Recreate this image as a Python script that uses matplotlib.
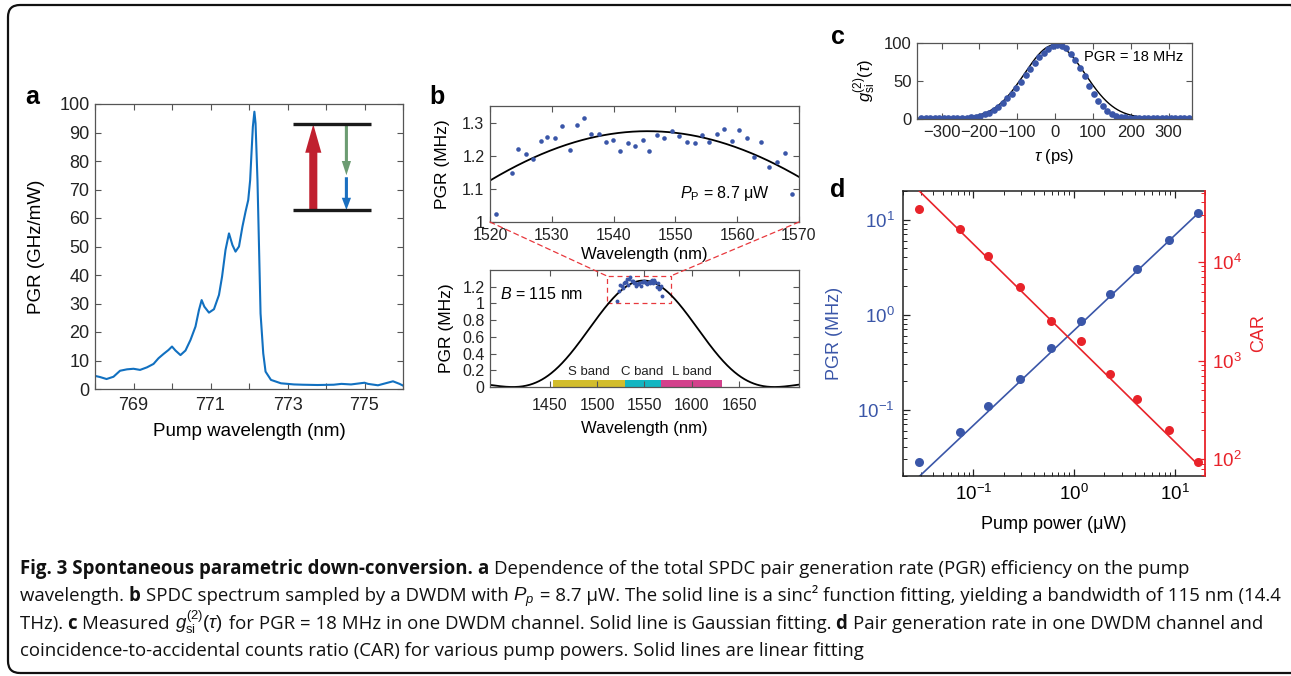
import numpy as np
import matplotlib
matplotlib.use('Agg')
import matplotlib.pyplot as plt
from matplotlib.patches import FancyBboxPatch, FancyArrow, Rectangle, ConnectionPatch
from matplotlib.transforms import IdentityTransform

plt.rcParams['font.family'] = ['Liberation Sans', 'DejaVu Sans']
plt.rcParams['mathtext.fontset'] = 'custom'
plt.rcParams['mathtext.rm'] = 'Liberation Sans'
plt.rcParams['mathtext.it'] = 'Liberation Sans:italic'
plt.rcParams['mathtext.bf'] = 'Liberation Sans:bold'

# ---------------- data ----------------
# panel a : PGR efficiency vs pump wavelength
a_wl = [768.00, 768.13, 768.30, 768.48, 768.65, 768.83, 769.00, 769.17, 769.35, 769.52,
        769.65, 769.78, 769.91, 770.00, 770.09, 770.22, 770.35, 770.48, 770.61, 770.70,
        770.77, 770.84, 770.96, 771.09, 771.22, 771.30, 771.39, 771.48, 771.57, 771.65,
        771.74, 771.83, 771.91, 771.98, 772.03, 772.06, 772.10, 772.14, 772.17, 772.22,
        772.26, 772.30, 772.37, 772.43, 772.57, 772.83, 773.17, 773.40, 773.78, 774.20,
        774.40, 774.65, 775.00, 775.09, 775.35, 775.74, 775.91, 776.00]
a_pgr = [4.6, 4.2, 3.5, 4.3, 6.4, 6.9, 7.1, 6.7, 7.6, 8.8,
         10.8, 12.3, 13.7, 14.9, 13.5, 11.9, 13.5, 17.2, 21.9, 27.7,
         31.2, 28.9, 26.8, 28.0, 33.0, 39.4, 48.8, 54.6, 50.5, 48.2,
         50.0, 57.0, 62.2, 66.3, 73.3, 81.5, 92.0, 97.3, 93.2, 73.3,
         50.0, 26.5, 12.5, 6.1, 3.2, 2.0, 1.6, 1.5, 1.4, 1.5,
         1.8, 1.6, 2.2, 1.8, 1.3, 2.7, 1.8, 1.2]

# panel b : SPDC spectrum sampled by DWDM
b_wl = [1520.9, 1523.5, 1524.6, 1525.8, 1527.0, 1528.2, 1529.3, 1530.5, 1531.7, 1532.9,
        1534.0, 1535.2, 1536.4, 1537.6, 1538.7, 1539.9, 1541.1, 1542.3, 1543.5, 1544.7,
        1545.8, 1547.1, 1548.2, 1549.4, 1550.6, 1551.8, 1553.1, 1554.3, 1555.5, 1556.7,
        1557.9, 1559.1, 1560.3, 1561.6, 1562.7, 1563.9, 1565.2, 1566.5, 1567.7, 1568.9]
b_pgr = [1.024, 1.148, 1.221, 1.205, 1.190, 1.243, 1.257, 1.254, 1.289, 1.216,
         1.292, 1.315, 1.265, 1.267, 1.242, 1.246, 1.214, 1.237, 1.230, 1.246,
         1.213, 1.262, 1.252, 1.274, 1.260, 1.242, 1.237, 1.261, 1.242, 1.267,
         1.280, 1.244, 1.277, 1.254, 1.197, 1.242, 1.167, 1.182, 1.208, 1.084]
# sinc^2 fit parameters (amplitude, centre, first-zero half width)
fit_top = (1.274, 1545.5, 132.0)
fit_bottom = (1.274, 1549.0, 138.0)
band_names = ['S band', 'C band', 'L band']
band_start = [1453, 1529, 1567]
band_end = [1529, 1567, 1632]
band_colors = ['#d2bd2c', '#13b6c2', '#d3418c']
zoom_box = (1510, 1578, 1.0, 1.33)

# panel c : g2 histogram
c_tau = [-354, -342, -330, -318, -306, -294, -282, -270, -258, -246, -234, -222,
         -210, -198, -186, -174, -162, -150, -138, -126, -114, -102, -90, -78,
         -66, -54, -42, -30, -18, -6, 6, 18, 30, 42, 54, 66,
         78, 90, 102, 114, 126, 138, 150, 162, 174, 186, 198, 210,
         222, 234, 246, 258, 270, 282, 294, 306, 318, 330, 342, 354]
c_g2 = [1.0, 0.9, 1.0, 1.1, 1.0, 0.9, 1.1, 1.2, 1.3, 1.4, 1.7, 2.2,
        3.2, 4.5, 6.2, 8.5, 11.5, 15.5, 20.5, 27.0, 33.0, 40.5, 49.0, 58.0,
        66.0, 74.0, 81.0, 87.5, 92.0, 96.0, 97.5, 96.5, 93.0, 86.0, 78.0, 67.0,
        56.0, 44.0, 33.5, 24.0, 16.5, 11.0, 7.2, 4.6, 3.0, 2.1, 1.6, 1.3,
        1.2, 1.1, 1.0, 1.0, 0.9, 1.0, 1.1, 1.0, 0.9, 1.0, 1.0, 1.1]
gauss_fit = (96.5, -1.0, 80.0, 1.0)   # amplitude, centre, sigma, offset

# panel d : PGR and CAR vs pump power
d_power = [0.0289, 0.0742, 0.140, 0.288, 0.588, 1.175, 2.28, 4.24, 8.77, 17.2]
d_pgr = [0.0279, 0.0582, 0.109, 0.208, 0.446, 0.858, 1.65, 3.02, 6.06, 11.75]
d_car = [33840, 21400, 11320, 5545, 2530, 1588, 730, 411, 198, 94.7]
pgr_slope = 0.682     # PGR = k * P
car_coef = 1510.0     # CAR = c / P

# ---------------- figure ----------------
W, H = 1291, 676
fig = plt.figure(figsize=(W / 100, H / 100), dpi=100)


def rect(l, t, r, b):
    return [l / W, 1 - b / H, (r - l) / W, (b - t) / H]


SP = '#555555'
BLUE = '#3a56a8'
RED = '#e8232a'


def style(ax, size):
    ax.tick_params(direction='in', top=True, right=True, length=4, width=0.8,
                   labelsize=size, color=SP, labelcolor='#222222', pad=4)
    for s in ax.spines.values():
        s.set_color(SP)
        s.set_linewidth(0.9)


# ---- panel a ----
axa = fig.add_axes(rect(95, 104, 403, 389))
axa.plot(a_wl, a_pgr, color='#1170c0', lw=1.5)
axa.set_xlim(768, 776)
axa.set_ylim(0, 100)
axa.set_xticks(range(768, 777))
axa.set_xticklabels([str(v) if v % 2 else '' for v in range(768, 777)])
axa.set_yticks(range(0, 101, 10))
style(axa, 13)
axa.tick_params(axis='x', pad=6)
axa.set_xlabel('Pump wavelength (nm)', fontsize=13.5, labelpad=6)
axa.set_ylabel('PGR (GHz/mW)', fontsize=13.5, labelpad=10)

# energy-level inset (decoration, data coordinates of panel a)
lev_x = (773.15, 775.17)
lev_y = (62.8, 92.9)
for yv in lev_y:
    axa.plot(lev_x, [yv, yv], color='#1a1a1a', lw=2.4, solid_capstyle='butt')
axa.add_patch(FancyArrow(773.67, lev_y[0], 0, lev_y[1] - lev_y[0], width=0.21,
                         head_width=0.42, head_length=10.0, length_includes_head=True,
                         color='#c0202f', lw=0))
axa.add_patch(FancyArrow(774.53, lev_y[1], 0, 75.0 - lev_y[1], width=0.08,
                         head_width=0.24, head_length=5.0, length_includes_head=True,
                         color='#6c9c72', lw=0))
axa.add_patch(FancyArrow(774.53, 74.3, 0, lev_y[0] - 74.3, width=0.08,
                         head_width=0.24, head_length=4.3, length_includes_head=True,
                         color='#1a6fc0', lw=0))

# ---- panel b (top) ----
axb1 = fig.add_axes(rect(490, 106, 799, 222))
lam1 = np.linspace(1520, 1570, 300)
A, l0, w = fit_top
axb1.plot(lam1, A * np.sinc((lam1 - l0) / w) ** 2, color='k', lw=1.3)
axb1.plot(b_wl, b_pgr, 'o', ms=3.3, color=BLUE, mec='none')
axb1.set_xlim(1520, 1570)
axb1.set_ylim(1.0, 1.35)
axb1.set_xticks(range(1520, 1571, 10))
axb1.set_yticks([1.0, 1.1, 1.2, 1.3])
axb1.set_yticklabels(['1', '1.1', '1.2', '1.3'])
style(axb1, 11.5)
axb1.set_xlabel('Wavelength (nm)', fontsize=12, labelpad=3)
axb1.set_ylabel('PGR (MHz)', fontsize=12.5, labelpad=9)
axb1.text(1550.8, 1.085, r'$P_\mathrm{P}$ = 8.7 μW', fontsize=11.5, va='center', ha='left')

# ---- panel b (bottom) ----
axb2 = fig.add_axes(rect(490, 270, 799, 387))
lam2 = np.linspace(1387, 1713, 600)
A, l0, w = fit_bottom
axb2.plot(lam2, A * np.sinc((lam2 - l0) / w) ** 2, color='k', lw=1.3)
axb2.plot(b_wl, b_pgr, 'o', ms=2.8, color=BLUE, mec='none')
axb2.bar(band_start, [0.078] * 3, width=[e - s for s, e in zip(band_start, band_end)],
         align='edge', color=band_colors, lw=0)
for s, e, n in zip(band_start, band_end, band_names):
    axb2.text((s + e) / 2, 0.175, n, fontsize=9.5, ha='center', va='center', color='#222')
bx0, bx1, by0, by1 = zoom_box
axb2.add_patch(Rectangle((bx0, by0), bx1 - bx0, by1 - by0, fill=False,
                         ls=(0, (4, 3)), lw=0.9, color='#e8383d'))
axb2.set_xlim(1387, 1713)
axb2.set_ylim(0, 1.4)
axb2.set_xticks(range(1450, 1651, 50))
axb2.set_yticks([0, 0.2, 0.4, 0.6, 0.8, 1.0, 1.2])
axb2.set_yticklabels(['0', '0.2', '0.4', '0.6', '0.8', '1', '1.2'])
style(axb2, 11.5)
axb2.tick_params(axis='x', pad=8)
axb2.set_xlabel('Wavelength (nm)', fontsize=12, labelpad=6)
axb2.set_ylabel('PGR (MHz)', fontsize=12.5, labelpad=6)
axb2.text(1398, 1.11, r'$B$ = 115 nm', fontsize=11.5, va='center', ha='left')
for xa, xb in [(1520, bx0), (1570, bx1)]:
    cp = ConnectionPatch(xyA=(xa, 1.0), coordsA=axb1.transData, xyB=(xb, by1),
                         coordsB=axb2.transData, color='#e8383d', lw=0.9, ls=(0, (4, 3)))
    fig.add_artist(cp)

# ---- panel c ----
axc = fig.add_axes(rect(917, 43, 1192, 119))
tt = np.linspace(-365, 362, 500)
Ag, mu, sg, off = gauss_fit
axc.plot(tt, Ag * np.exp(-(tt - mu) ** 2 / (2 * sg ** 2)) + off, color='k', lw=1.0)
axc.plot(c_tau, c_g2, 'o', ms=4.8, color=BLUE, mec='none')
axc.set_xlim(-365, 362)
axc.set_ylim(0, 100)
axc.set_xticks(range(-300, 301, 100))
axc.set_yticks([0, 50, 100])
style(axc, 12)
axc.set_xlabel(r'$\tau$ (ps)', fontsize=12, labelpad=5)
axc.set_ylabel(r'$g^{(2)}_{\mathrm{si}}(\tau)$', fontsize=12, labelpad=4)
axc.text(0.967, 0.82, 'PGR = 18 MHz', transform=axc.transAxes, fontsize=10.5,
         ha='right', va='center')

# ---- panel d ----
axd = fig.add_axes(rect(903, 191, 1205, 476))
axd2 = axd.twinx()
pp = np.array([d_power[0], d_power[-1]])
axd.plot(pp, pgr_slope * pp, color=BLUE, lw=1.2)
axd.plot(d_power, d_pgr, 'o', ms=6.5, color=BLUE, mec='none')
axd2.plot(pp, car_coef / pp, color=RED, lw=1.2)
axd2.plot(d_power, d_car, 'o', ms=6.5, color=RED, mec='none')
axd.set_xscale('log')
axd.set_yscale('log')
axd2.set_yscale('log')
axd.set_xlim(0.02, 20)
axd.set_ylim(0.02, 20)
axd2.set_ylim(68, 52000)
axd.tick_params(which='both', direction='in', top=True, right=False, color='#222',
                labelsize=13.5, pad=6)
axd.tick_params(which='major', length=5, width=0.9)
axd.tick_params(which='minor', length=3, width=0.7)
axd.tick_params(axis='y', labelcolor=BLUE)
axd2.tick_params(which='both', direction='in', color=RED, labelcolor=RED, labelsize=13.5, pad=5)
axd2.tick_params(which='major', length=5, width=0.9)
axd2.tick_params(which='minor', length=3, width=0.7)
for s in ['left', 'bottom', 'top']:
    axd.spines[s].set_color('#222')
    axd.spines[s].set_linewidth(1.1)
axd2.spines['right'].set_color(RED)
axd2.spines['right'].set_linewidth(1.3)
axd2.spines['left'].set_visible(False)
axd2.spines['top'].set_visible(False)
axd2.spines['bottom'].set_visible(False)
axd.spines['right'].set_visible(False)
axd.set_xlabel('Pump power (μW)', fontsize=13, labelpad=8)
axd.set_ylabel('PGR (MHz)', fontsize=13, color=BLUE, labelpad=10)
axd2.set_ylabel('CAR', fontsize=13, color=RED, labelpad=6)

# ---- panel letters ----
for ch, (x, y) in zip('abcd', [(32, 97), (437, 97), (838, 37), (838, 190)]):
    fig.text(x / W, 1 - y / H, ch, fontsize=18, fontweight='bold', ha='center', va='center')

# ---- frame ----
fig.add_artist(FancyBboxPatch((8, 3), 1295, 668, boxstyle='round,pad=0,rounding_size=12',
                              transform=IdentityTransform(), fill=False, lw=1.6,
                              edgecolor='#111'))

# ---- caption ----
CF = ['Open Sans', 'DejaVu Sans']
cap_lines = [
    [('Fig. 3 Spontaneous parametric down-conversion. ', 'bold'), ('a ', 'bold'),
     ('Dependence of the total SPDC pair generation rate (PGR) efficiency on the pump', 'normal')],
    [('wavelength. ', 'normal'), ('b ', 'bold'), ('SPDC spectrum sampled by a DWDM with ', 'normal'),
     (r'$P_p$', 'normal'),
     (' = 8.7 μW. The solid line is a sinc² function fitting, yielding a bandwidth of 115 nm (14.4', 'normal')],
    [('THz). ', 'normal'), ('c ', 'bold'), ('Measured ', 'normal'),
     (r'$g^{(2)}_{\mathrm{si}}(\tau)$', 'normal'),
     (' for PGR = 18 MHz in one DWDM channel. Solid line is Gaussian fitting. ', 'normal'),
     ('d ', 'bold'), ('Pair generation rate in one DWDM channel and', 'normal')],
    [('coincidence-to-accidental counts ratio (CAR) for various pump powers. Solid lines are linear fitting', 'normal')],
]
cap_base = [574, 601, 629, 656]
cap_targets = {0: 1190.0, 1: 1258.0}

renderer = fig.canvas.get_renderer()


def seg_width(s, weight, size):
    if s.startswith('$'):
        t = fig.text(0, 0, s, fontsize=size, fontweight=weight, family=CF,
                     transform=IdentityTransform())
        wdt = t.get_window_extent(renderer).width + 1.0
        t.remove()
        return wdt
    t1 = fig.text(0, 0, '|' + s + '|', fontsize=size, fontweight=weight, family=CF,
                  transform=IdentityTransform())
    t2 = fig.text(0, 0, '||', fontsize=size, fontweight=weight, family=CF,
                  transform=IdentityTransform())
    wdt = t1.get_window_extent(renderer).width - t2.get_window_extent(renderer).width
    t1.remove()
    t2.remove()
    return wdt


size0 = 12.0
scales = []
for i, target in cap_targets.items():
    tot = sum(seg_width(s, wgt, size0) for s, wgt in cap_lines[i])
    scales.append(target / tot)
cap_size = size0 * min(scales)

for line, yb in zip(cap_lines, cap_base):
    x = 20.0
    for s, wgt in line:
        fig.text(x, H - yb, s, fontsize=cap_size, fontweight=wgt, family=CF,
                 transform=IdentityTransform(), va='baseline', ha='left', color='#111')
        x += seg_width(s, wgt, cap_size)

fig.savefig('out.png', dpi=100)
